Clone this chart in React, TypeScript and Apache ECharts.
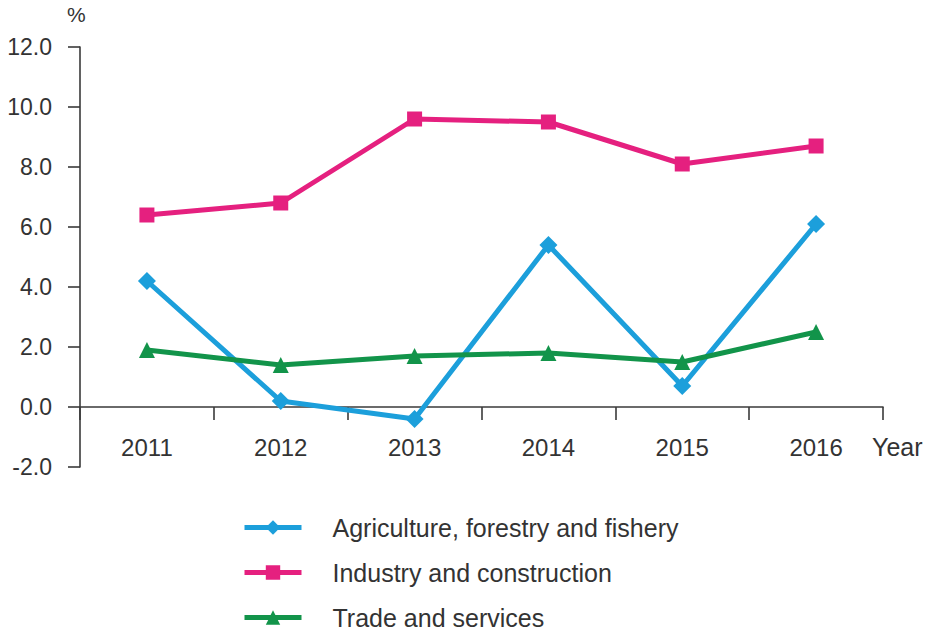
import React, { useEffect, useRef } from "react";
import * as echarts from "echarts";

const years = ["2011", "2012", "2013", "2014", "2015", "2016"];
const agriculture = [4.2, 0.2, -0.4, 5.4, 0.7, 6.1];
const industry = [6.4, 6.8, 9.6, 9.5, 8.1, 8.7];
const trade = [1.9, 1.4, 1.7, 1.8, 1.5, 2.5];
const seriesNames = [
  "Agriculture, forestry and fishery",
  "Industry and construction",
  "Trade and services",
];
const colors = ["#1c9fdb", "#e5207f", "#12944a"];

const FONT = "Liberation Sans, Arial, Helvetica, sans-serif";

export default function App() {
  const ref = useRef<HTMLDivElement>(null);
  useEffect(() => {
    if (!ref.current) return;
    const chart = echarts.init(ref.current, undefined, { renderer: "svg" });
    const mk = (name: string, data: number[], color: string, symbol: string, size: number) => ({
      name,
      type: "line",
      data,
      symbol,
      symbolSize: size,
      lineStyle: { color, width: 5 },
      itemStyle: { color },
      z: 3,
    });
    chart.setOption({
      animation: false,
      backgroundColor: "#ffffff",
      textStyle: { fontFamily: FONT },
      grid: { left: 80, right: 45, top: 47, height: 420, containLabel: false },
      xAxis: {
        type: "category",
        data: years,
        boundaryGap: true,
        axisLine: { onZero: true, lineStyle: { color: "#3a3a3a", width: 1.6 } },
        axisTick: { show: true, length: 13, lineStyle: { color: "#3a3a3a", width: 1.6 } },
        axisLabel: { color: "#333", fontSize: 24, margin: -32, fontFamily: FONT },
        splitLine: { show: false },
      },
      yAxis: {
        type: "value",
        min: -2,
        max: 12,
        interval: 2,
        axisLine: { show: true, lineStyle: { color: "#3a3a3a", width: 1.6 } },
        axisTick: { show: true, length: 12, lineStyle: { color: "#3a3a3a", width: 1.6 } },
        axisLabel: {
          color: "#333",
          fontSize: 23,
          margin: 28,
          fontFamily: FONT,
          formatter: (v: number) => v.toFixed(1),
        },
        splitLine: { show: false },
      },
      legend: {
        orient: "vertical",
        left: 237,
        top: 510,
        height: 200,
        itemWidth: 57,
        itemHeight: 18,
        itemGap: 20,
        lineStyle: { width: 5 },
        textStyle: { color: "#333", fontSize: 25, fontFamily: FONT, padding: [0, 0, 0, 26] },
        data: seriesNames,
      },
      graphic: [
        {
          type: "text",
          left: 67,
          top: 4,
          style: { text: "%", fontSize: 21, fill: "#333", fontFamily: FONT },
        },
        {
          type: "text",
          left: 872,
          top: 434,
          style: { text: "Year", fontSize: 25, fill: "#333", fontFamily: FONT },
        },
      ],
      series: [
        mk(seriesNames[0], agriculture, colors[0], "diamond", 18),
        mk(seriesNames[1], industry, colors[1], "rect", 15),
        mk(seriesNames[2], trade, colors[2], "triangle", 16),
      ],
    });
    return () => chart.dispose();
  }, []);
  return (
    <div
      ref={ref}
      style={{ position: "fixed", left: 0, top: 0, width: 928, height: 680 }}
    />
  );
}
